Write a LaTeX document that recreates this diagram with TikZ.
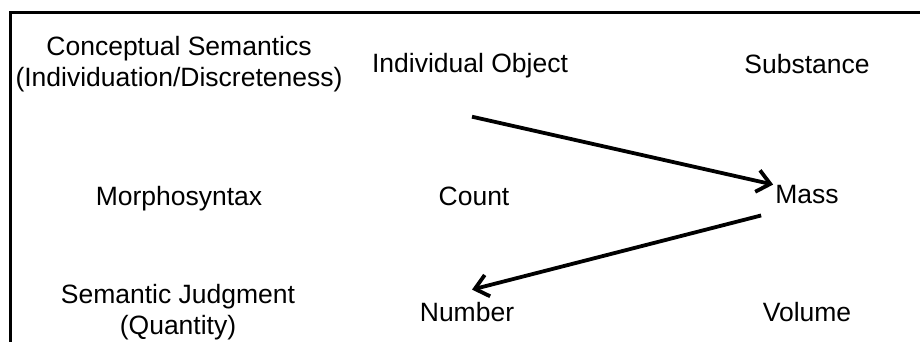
\documentclass[tikz,border=0pt]{standalone}
\usepackage{fontspec}
\setmainfont{Liberation Sans}
\usetikzlibrary{arrows.meta}
\newcommand\lblfont{\fontsize{26.5}{31.5}\selectfont}
\tikzset{
  lbl/.style={inner sep=0pt, anchor=base, font=\lblfont},
  conn/.style={line width=3.8pt, -{Straight Barb[length=13pt,width=22pt]}},
  frameline/.style={line width=3pt}
}
\begin{document}
\begin{tikzpicture}[x=1pt,y=-1pt]
\useasboundingbox (0,0) rectangle (920,341);
\fill[white] (0,0) rectangle (920,341);
\draw[frameline] (10,343) -- (10,12) -- (922,12);

\node[lbl] (cs) at (179,55) {\begin{tabular}[t]{@{}c@{}}Conceptual Semantics\\(Individuation/Discreteness)\end{tabular}};
\node[lbl] (io) at (470,72) {Individual Object};
\node[lbl] (sub) at (807,73) {Substance};

\node[lbl] (ms) at (179,205) {Morphosyntax};
\node[lbl] (cnt) at (474,205) {Count};
\node[lbl] (mass) at (807,203) {Mass};

\node[lbl] (sj) at (178,303) {\begin{tabular}[t]{@{}c@{}}Semantic Judgment\\(Quantity)\end{tabular}};
\node[lbl] (num) at (467,321) {Number};
\node[lbl] (vol) at (807,321) {Volume};

\draw[conn] ([shift={(2,39)}]io.south) -- ([shift={(-2,0)}]mass.north west);
\draw[conn] ([shift={(-14,12)}]mass.south west) -- ([shift={(5,-12)}]num.north);
\end{tikzpicture}
\end{document}
